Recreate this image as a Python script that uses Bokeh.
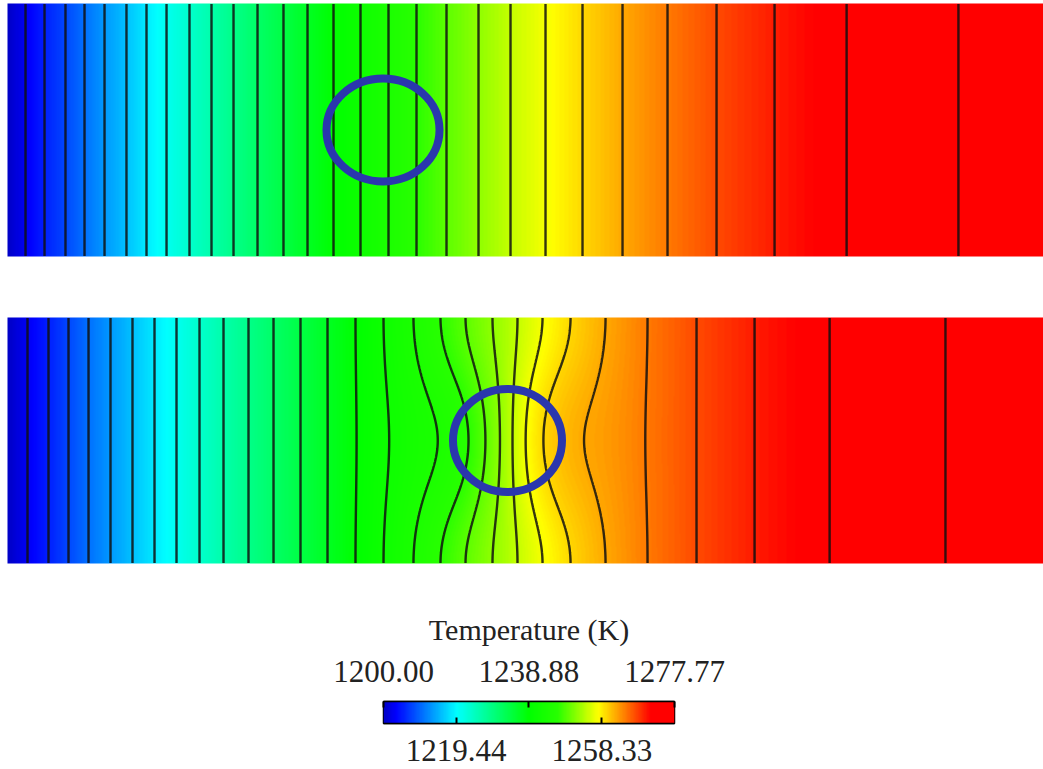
import numpy as np
from bokeh.plotting import figure
from bokeh.models import Range1d, LinearColorMapper, LinearAxis, FixedTicker, PrintfTickFormatter, Spacer
from bokeh.layouts import column, row
from bokeh.embed import file_html
from bokeh.resources import INLINE

# ---------------- data ----------------
T_MIN, T_MAX = 1200.00, 1277.77
# isotherm levels (30 equal intervals between T_MIN and T_MAX)
levels = [1202.59, 1205.18, 1207.78, 1210.37, 1212.96, 1215.55, 1218.15, 1220.74,
          1223.33, 1225.92, 1228.51, 1231.11, 1233.70, 1236.29, 1238.88, 1241.48,
          1244.07, 1246.66, 1249.25, 1251.85, 1254.44, 1257.03, 1259.62, 1262.21,
          1264.81, 1267.40, 1269.99, 1272.58, 1275.18]
# x-position of each isotherm in the upper case (straight lines)
top_line_x = [25, 44, 65, 84, 104, 126, 146, 166, 189, 211, 233, 257, 283, 307, 333,
              360, 388, 416, 446, 478, 510, 545, 582, 622, 667, 716, 774, 846, 958]
# x-position of each isotherm along the wall in the lower case
bottom_line_x = [27, 48, 68, 88, 110, 132, 154, 176, 199, 223, 248, 273, 300, 327, 355,
                 383, 413, 440, 465, 492, 517, 542, 570, 605, 647, 696, 754, 829, 945]
# inclusions (centre, width, height)
circle_x = [382.5, 507.0]
circle_y = [639.5, 329.0]
circle_w = [113, 109]
circle_h = [103, 103]
# colour bar ticks
cbar_ticks_top = [1200.00, 1238.88, 1277.77]
cbar_ticks_bottom = [1219.44, 1258.33]

# ---------------- geometry / style ----------------
X0, X1 = 7, 1043
TOP_Y0, TOP_Y1 = 513, 766
BOT_Y0, BOT_Y1 = 206, 452
DIST_A, DIST_SIGMA = 1.0, 48.0
HALF_H = (BOT_Y1 - BOT_Y0) / 2.0

stops_t = [0.0, 0.04, 0.25, 0.5, 0.6, 0.74, 0.92, 1.0]
stops_rgb = [(0, 0, 200), (0, 0, 255), (0, 255, 255), (0, 255, 0), (40, 255, 0),
             (255, 255, 0), (255, 0, 0), (255, 0, 0)]
tt = np.linspace(0, 1, 256)
chan = [np.interp(tt, stops_t, [c[i] for c in stops_rgb]) for i in range(3)]
palette = ["#%02x%02x%02x" % (int(round(r)), int(round(g)), int(round(b))) for r, g, b in zip(*chan)]
mapper = LinearColorMapper(palette=palette, low=T_MIN, high=T_MAX)

SERIF = "Liberation Serif"
CIRCLE_COLOR = "#2a37ad"
PAGE_W, PAGE_H = 1043, 769
MAIN_H = 580

# ---------------- fields ----------------
xg = np.arange(X0 + 0.5, X1, 1.0)
ty = np.arange(TOP_Y0 + 0.5, TOP_Y1, 1.0)
by = np.arange(BOT_Y0 + 0.5, BOT_Y1, 1.0)

def profile(u, xs):
    return np.interp(u, [X0] + list(xs) + [X1], [T_MIN] + levels + [T_MAX])

XT, YT = np.meshgrid(xg, ty)
Z_top = profile(XT, top_line_x)

XB, YB = np.meshgrid(xg, by)
dx = XB - circle_x[1]
dy = YB - circle_y[1]
m = 1.0 + DIST_A * np.exp(-dx**2 / (2 * DIST_SIGMA**2)) * np.cos(np.pi * dy / (2 * HALF_H))**2
Z_bot = profile(circle_x[1] + dx * m, bottom_line_x)

# ---------------- main figure ----------------
p = figure(width=PAGE_W, height=MAIN_H, x_range=Range1d(0, PAGE_W),
           y_range=Range1d(PAGE_H - MAIN_H, PAGE_H),
           x_axis_location=None, y_axis_location=None, toolbar_location=None,
           output_backend="svg", min_border=0, outline_line_color=None)
p.grid.visible = False

p.image(image=[Z_top], x=X0, y=TOP_Y0, dw=X1 - X0, dh=TOP_Y1 - TOP_Y0, color_mapper=mapper)
p.image(image=[Z_bot], x=X0, y=BOT_Y0, dw=X1 - X0, dh=BOT_Y1 - BOT_Y0, color_mapper=mapper)
p.contour(x=xg, y=ty, z=Z_top, levels=levels, line_color="#101010", line_width=2.4, line_alpha=0.85)
p.contour(x=xg, y=by, z=Z_bot, levels=levels, line_color="#101010", line_width=2.4, line_alpha=0.85)
p.ellipse(x=circle_x, y=circle_y, width=circle_w, height=circle_h,
          fill_color=None, line_color=CIRCLE_COLOR, line_width=8)

# ---------------- colour bar ----------------
CB_H = PAGE_H - MAIN_H
pc = figure(width=431, height=CB_H, x_range=Range1d(T_MIN, T_MAX), y_range=Range1d(0, 1),
            x_axis_location="above", y_axis_location=None, toolbar_location=None,
            output_backend="svg", min_border_left=70, min_border_right=70,
            min_border_top=701 - MAIN_H, min_border_bottom=CB_H - (723 - MAIN_H),
            outline_line_color="black", outline_line_width=1.5)
pc.grid.visible = False
pc.image(image=[np.linspace(T_MIN, T_MAX, 400)[None, :]], x=T_MIN, y=0,
         dw=T_MAX - T_MIN, dh=1, color_mapper=mapper)

ax_top = pc.xaxis[0]
ax_top.ticker = FixedTicker(ticks=cbar_ticks_top)
ax_top.formatter = PrintfTickFormatter(format="%.2f")
ax_top.axis_label = "Temperature (K)"
ax_top.axis_label_standoff = 12
ax_top.axis_label_text_font = SERIF
ax_top.axis_label_text_font_size = "30px"
ax_top.axis_label_text_font_style = "normal"
ax_top.axis_label_text_color = "#222222"
ax_top.major_label_standoff = 20

ax_bot = LinearAxis(ticker=FixedTicker(ticks=cbar_ticks_bottom),
                    formatter=PrintfTickFormatter(format="%.2f"))
ax_bot.major_label_standoff = 16
pc.add_layout(ax_bot, "below")

for ax in (ax_top, ax_bot):
    ax.major_label_text_font = SERIF
    ax.major_label_text_font_size = "31px"
    ax.major_label_text_color = "#222222"
    ax.major_tick_in = 6
    ax.major_tick_out = 0
    ax.minor_tick_in = 0
    ax.minor_tick_out = 0
    ax.major_tick_line_color = "black"
    ax.major_tick_line_width = 2
    ax.axis_line_color = "black"
    ax.axis_line_width = 1.5

layout = column(p, row(Spacer(width=383 - 70, height=CB_H), pc))

open("out.html", "w").write(file_html(layout, INLINE))
